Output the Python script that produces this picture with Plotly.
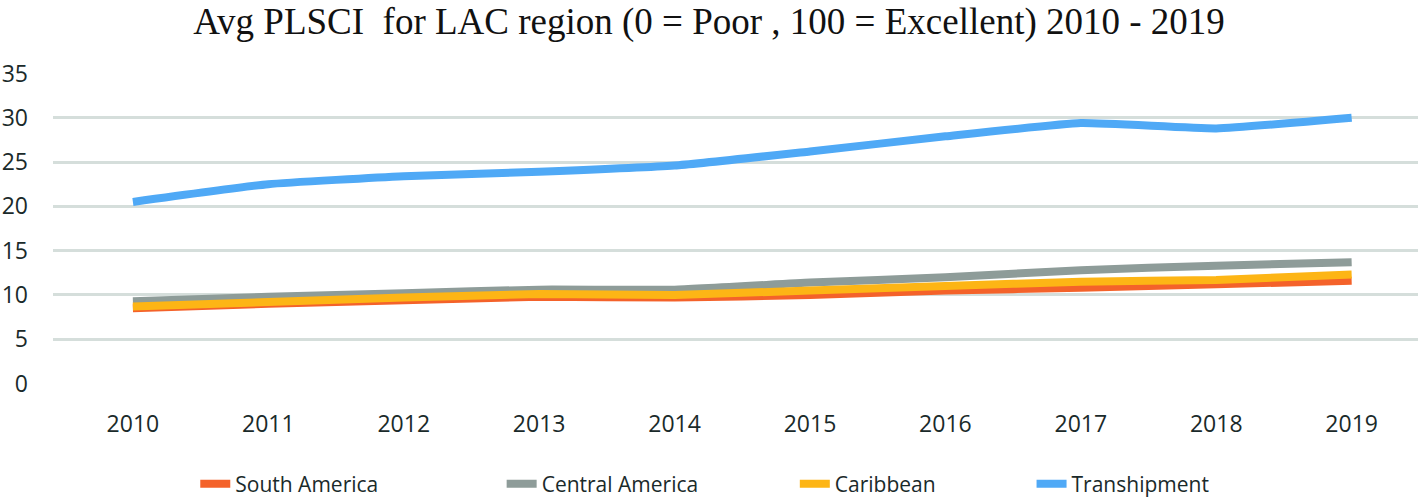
import plotly.graph_objects as go

years = [2010, 2011, 2012, 2013, 2014, 2015, 2016, 2017, 2018, 2019]
south_america = [8.5, 9.0, 9.4, 9.8, 9.7, 10.0, 10.5, 10.8, 11.2, 11.6]
central_america = [9.3, 9.8, 10.2, 10.6, 10.6, 11.4, 12.0, 12.8, 13.3, 13.7]
caribbean = [8.7, 9.2, 9.7, 10.1, 10.0, 10.5, 11.0, 11.5, 11.7, 12.3]
transhipment = [20.5, 22.5, 23.4, 23.9, 24.6, 26.2, 27.9, 29.4, 28.8, 30.0]
y_ticks = [0, 5, 10, 15, 20, 25, 30, 35]

series = [
    ("South America", south_america, "#F4622A", "legend", 0.204),
    ("Central America", central_america, "#8E9C99", "legend2", 0.425),
    ("Caribbean", caribbean, "#FDB515", "legend3", 0.612),
    ("Transhipment", transhipment, "#4FA9F6", "legend4", 0.792),
]

fig = go.Figure()
for name, vals, color, leg, _ in series:
    fig.add_trace(go.Scatter(
        x=years, y=vals, name=name, mode="lines", legend=leg,
        line=dict(color=color, width=8, shape="spline", smoothing=0.4),
    ))

legend_style = dict(
    orientation="h", xref="container", yref="container",
    xanchor="center", y=0.028, yanchor="middle",
    font=dict(family="Open Sans", size=21, color="#1a2a2a"),
    bgcolor="rgba(0,0,0,0)",
)
legends = {}
for name, vals, color, leg, xc in series:
    legends[leg] = dict(legend_style, x=xc)

fig.update_layout(
    width=1418, height=498,
    paper_bgcolor="white", plot_bgcolor="white",
    margin=dict(l=53, r=0, t=73, b=114, autoexpand=False),
    title=dict(
        text="Avg PLSCI  for LAC region (0 = Poor , 100 = Excellent) 2010 - 2019",
        x=0.5, xanchor="center", y=0.958, yanchor="middle",
        font=dict(family="Liberation Serif", size=37, color="#111"),
    ),
    xaxis=dict(
        range=[2009.41, 2019.49], tickmode="array", tickvals=years,
        ticktext=[str(y) for y in years], showgrid=False, zeroline=False,
        showline=False, ticks="", automargin=False, ticklabelstandoff=24,
        tickfont=dict(family="Open Sans", size=23, color="#1a2a2a"),
    ),
    yaxis=dict(
        range=[-0.05, 35.05], tickmode="array", tickvals=y_ticks,
        showgrid=True, gridcolor="#D5DEDB", gridwidth=3, zeroline=False,
        showline=False, ticks="", ticklabelstandoff=24, automargin=False,
        tickfont=dict(family="Open Sans", size=23, color="#1a2a2a"),
    ),
    showlegend=True,
    **legends,
)

fig.write_html(
    "out.html",
    config={"displayModeBar": False},
    post_script="document.body.style.margin='0';document.body.style.padding='0';",
)
